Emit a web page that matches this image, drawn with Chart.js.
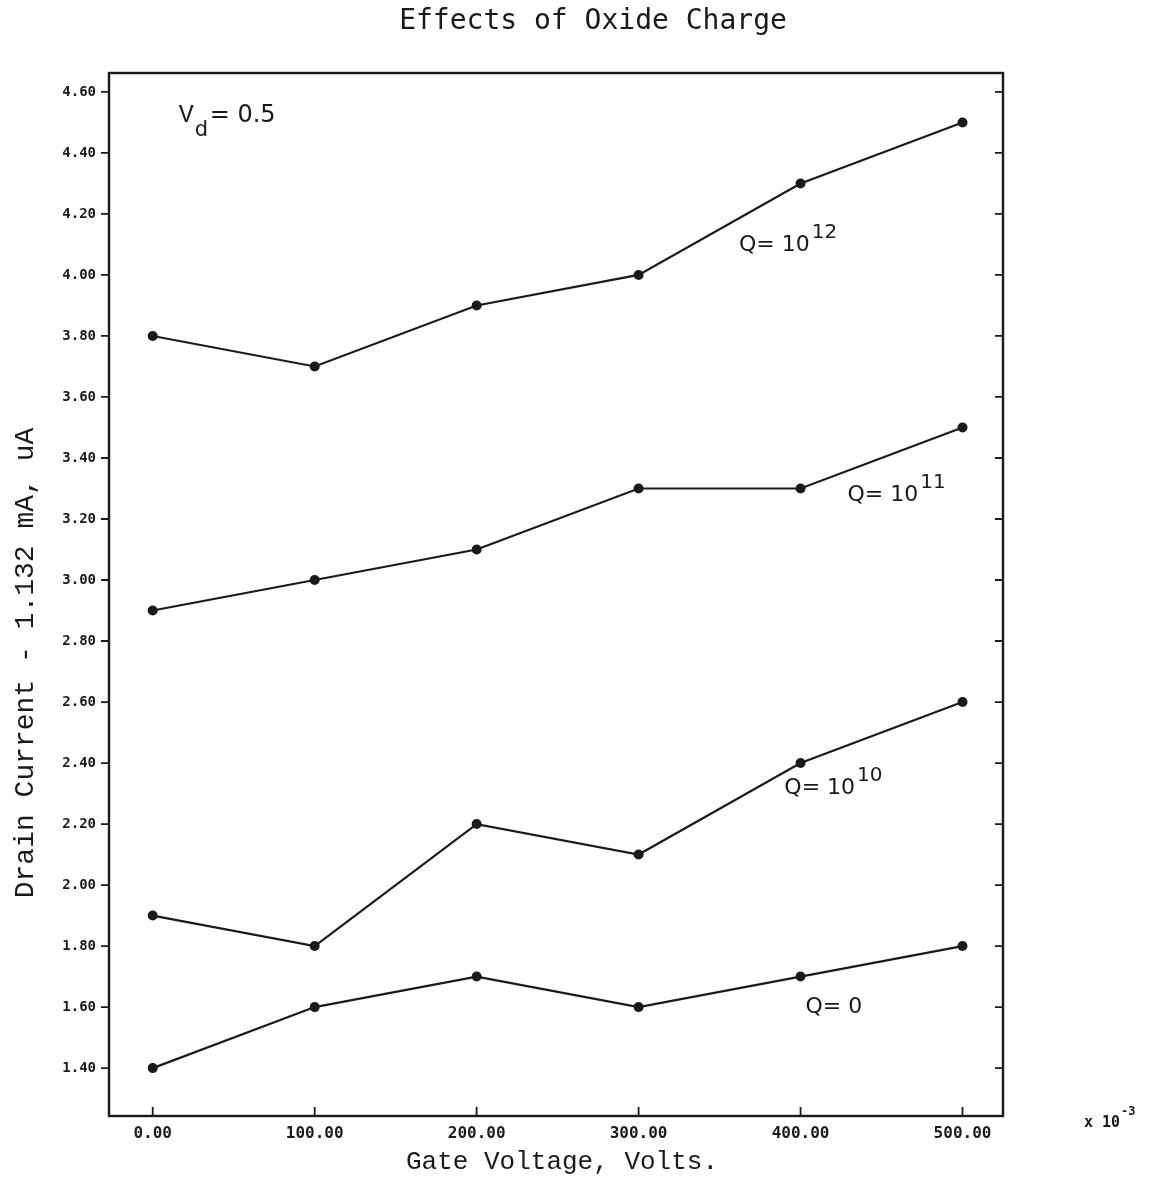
<!DOCTYPE html>
<html>
<head>
<meta charset="utf-8">
<title>Effects of Oxide Charge</title>
<script src="https://cdn.jsdelivr.net/npm/chart.js@4/dist/chart.umd.min.js"></script>
<style>
  html, body { margin: 0; padding: 0; background: #fff; }
  #wrap { width: 1163px; height: 1183px; }
</style>
</head>
<body>
<div id="wrap"><canvas id="chart" width="1163" height="1183"></canvas></div>
<script>
// gate voltage, x 10^-3 V
const gateVoltage = [0, 100, 200, 300, 400, 500];

// drain current - 1.132 mA, uA
const q12 = [3.8, 3.7, 3.9, 4.0, 4.3, 4.5];
const q11 = [2.9, 3.0, 3.1, 3.3, 3.3, 3.5];
const q10 = [1.9, 1.8, 2.2, 2.1, 2.4, 2.6];
const q0  = [1.4, 1.6, 1.7, 1.6, 1.7, 1.8];

const xTicks = [0, 100, 200, 300, 400, 500];
const yTicks = [1.4, 1.6, 1.8, 2.0, 2.2, 2.4, 2.6, 2.8, 3.0, 3.2, 3.4, 3.6, 3.8, 4.0, 4.2, 4.4, 4.6];

// curve labels: [text, exponent, x, y]
const curveLabels = [
    ['Q= 10', '12', 362, 4.08],
    ['Q= 10', '11', 429, 3.26],
    ['Q= 10', '10', 390, 2.30],
    ['Q= 0', '', 403, 1.58]
];

const ink = '#1a1a1a';

function toPoints(arr) {
    return gateVoltage.map((x, i) => ({ x: x, y: arr[i] }));
}

function series(label, arr) {
    return {
        label: label,
        data: toPoints(arr),
        borderColor: ink,
        backgroundColor: ink,
        borderWidth: 2.2,
        pointRadius: 5,
        pointBackgroundColor: ink,
        pointBorderWidth: 0,
        tension: 0
    };
}

// frame, ticks, titles and notes
const plotterPlugin = {
    id: 'plotter',
    afterDraw(chart) {
        const ctx = chart.ctx;
        const area = chart.chartArea;
        const xs = chart.scales.x;
        const ys = chart.scales.y;
        ctx.save();
        ctx.strokeStyle = ink;
        ctx.fillStyle = ink;

        // frame
        ctx.lineWidth = 2.4;
        ctx.strokeRect(area.left, area.top, area.right - area.left, area.bottom - area.top);

        // ticks
        ctx.lineWidth = 1.8;
        ctx.beginPath();
        yTicks.forEach(v => {
            const py = ys.getPixelForValue(v);
            ctx.moveTo(area.left - 8, py);
            ctx.lineTo(area.left, py);
            ctx.moveTo(area.right, py);
            ctx.lineTo(area.right - 8, py);
        });
        xTicks.forEach(v => {
            const px = xs.getPixelForValue(v);
            ctx.moveTo(px, area.bottom);
            ctx.lineTo(px, area.bottom - 9);
        });
        ctx.stroke();

        // title
        ctx.font = '28px "DejaVu Sans Mono"';
        ctx.textAlign = 'center';
        ctx.textBaseline = 'middle';
        ctx.fillText('Effects of Oxide Charge', 593, 22);

        // x axis title
        ctx.font = '26px "Liberation Mono"';
        ctx.fillText('Gate Voltage, Volts.', 562, 1162);

        // y axis title
        ctx.save();
        ctx.translate(26, 663);
        ctx.rotate(-Math.PI / 2);
        ctx.font = '28px "Liberation Mono"';
        ctx.fillText('Drain Current - 1.132 mA, uA', 0, 0);
        ctx.restore();

        // x 10^-3
        ctx.textAlign = 'left';
        ctx.textBaseline = 'alphabetic';
        ctx.font = 'bold 15px "DejaVu Sans Mono"';
        ctx.fillText('x 10', 1084, 1127);
        const xw = ctx.measureText('x 10').width;
        ctx.font = 'bold 12px "DejaVu Sans Mono"';
        ctx.fillText('-3', 1084 + xw + 1, 1115);

        // curve labels
        curveLabels.forEach(([txt, exp, x, y]) => {
            const px = xs.getPixelForValue(x);
            const py = ys.getPixelForValue(y);
            ctx.font = '22px "DejaVu Sans"';
            ctx.fillText(txt, px, py);
            if (exp) {
                const w = ctx.measureText(txt).width;
                ctx.font = '20px "DejaVu Sans"';
                ctx.fillText(exp, px + w + 2, py - 13);
            }
        });

        // Vd = 0.5
        const vx = xs.getPixelForValue(16);
        const vy = ys.getPixelForValue(4.50);
        ctx.font = '25px "Liberation Mono"';
        ctx.fillText('V', vx, vy);
        ctx.font = '21px "DejaVu Sans"';
        ctx.fillText('d', vx + 16, vy + 14);
        ctx.font = '24px "DejaVu Sans"';
        ctx.fillText('= 0.5', vx + 31, vy);

        ctx.restore();
    }
};

new Chart(document.getElementById('chart'), {
    type: 'scatter',
    data: {
        datasets: [
            series('Q = 10^12', q12),
            series('Q = 10^11', q11),
            series('Q = 10^10', q10),
            series('Q = 0', q0)
        ]
    },
    options: {
        responsive: false,
        animation: false,
        showLine: true,
        layout: {
            padding: { left: 0, right: 160, top: 73, bottom: 0 }
        },
        plugins: {
            legend: { display: false },
            title: { display: false },
            tooltip: { enabled: false }
        },
        scales: {
            x: {
                type: 'linear',
                min: -27,
                max: 525,
                afterBuildTicks: scale => {
                    scale.ticks = xTicks.map(v => ({ value: v }));
                },
                afterFit: scale => { scale.height = 67; },
                grid: { display: false, drawTicks: false },
                border: { display: false },
                ticks: {
                    padding: 8,
                    color: ink,
                    maxRotation: 0,
                    font: { family: 'DejaVu Sans Mono', size: 16, weight: 'bold' },
                    callback: v => v.toFixed(2)
                }
            },
            y: {
                type: 'linear',
                min: 1.243,
                max: 4.662,
                afterBuildTicks: scale => {
                    scale.ticks = yTicks.map(v => ({ value: v }));
                },
                afterFit: scale => { scale.width = 109; },
                grid: { display: false, drawTicks: false },
                border: { display: false },
                ticks: {
                    padding: 13,
                    color: ink,
                    font: { family: 'DejaVu Sans Mono', size: 14, weight: 'bold' },
                    callback: v => v.toFixed(2)
                }
            }
        }
    },
    plugins: [plotterPlugin]
});
</script>
</body>
</html>
